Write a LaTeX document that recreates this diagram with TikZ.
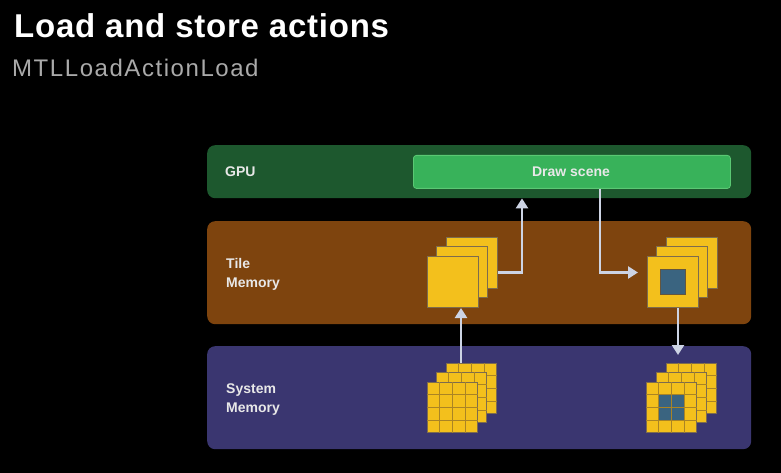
\documentclass[tikz,border=0pt]{standalone}
\usepackage{fontspec}
\setmainfont{Liberation Sans}
\usetikzlibrary{arrows.meta,calc}
\definecolor{gpugreen}{RGB}{29,88,46}
\definecolor{scenegreen}{RGB}{56,178,90}
\definecolor{scenebdr}{RGB}{90,200,115}
\definecolor{tilebrown}{RGB}{126,68,14}
\definecolor{syspurple}{RGB}{58,54,112}
\definecolor{tileyellow}{RGB}{243,192,28}
\definecolor{sqborder}{RGB}{125,108,78}
\definecolor{gridcol}{RGB}{170,132,36}
\definecolor{tileblue}{RGB}{58,100,128}
\definecolor{arrowgray}{RGB}{205,212,228}
\definecolor{labelwhite}{RGB}{232,232,232}
\definecolor{subgray}{RGB}{170,170,170}
\newcommand\mygridlines[1]{%
  \foreach \k in {1,2,3}{%
    \draw[gridline] ($(#1.north west)!\k/4!(#1.north east)$) -- ($(#1.south west)!\k/4!(#1.south east)$);
    \draw[gridline] ($(#1.north west)!\k/4!(#1.south west)$) -- ($(#1.north east)!\k/4!(#1.south east)$);
  }}
\begin{document}
\begin{tikzpicture}[x=1pt,y=-1pt,
  panel/.style={rounded corners=8pt, inner sep=0, anchor=north west},
  sq/.style={draw=sqborder, line width=1pt, fill=tileyellow, minimum width=51pt, minimum height=51pt, anchor=north west, inner sep=0},
  gsq/.style={sq, minimum width=50pt, minimum height=50pt},
  gridline/.style={draw=gridcol, line width=1pt},
  lbl/.style={text=labelwhite, font=\fontsize{14}{18}\selectfont\bfseries, anchor=base west, inner sep=0},
  arr/.style={draw=arrowgray, line width=2.5pt, -{Triangle[width=12pt,length=10pt]}}]
\fill[black] (0,0) rectangle (781,473);
\useasboundingbox (0,0) rectangle (781,473);

\node[anchor=base west, inner sep=0, text=white, font=\fontsize{33}{40}\selectfont\bfseries\addfontfeature{LetterSpace=2.3}] (title) at (14,38) {Load and store actions};
\node[anchor=base west, inner sep=0, text=subgray, font=\fontsize{24}{29}\selectfont\addfontfeature{LetterSpace=6.5}] (sub) at (12,77) {MTLLoadActionLoad};

% panels
\node[panel, fill=gpugreen, minimum width=544pt, minimum height=53pt] (gpu) at (207,145) {};
\node[panel, fill=tilebrown, minimum width=544pt, minimum height=103pt] (tile) at (207,221) {};
\node[panel, fill=syspurple, minimum width=544pt, minimum height=103pt] (sys) at (207,346) {};

\node[lbl] (gpul) at (225,177) {GPU};
\node[lbl] (tilel1) at (226,268) {Tile};
\node[lbl] (tilel2) at (226,287) {Memory};
\node[lbl] (sysl1) at (226,393) {System};
\node[lbl] (sysl2) at (226,412) {Memory};

\node[draw=scenebdr, line width=0.8pt, fill=scenegreen, rounded corners=3pt, minimum width=317pt, minimum height=33pt, anchor=north west, inner sep=0] (scene) at (413,155) {};
\node[lbl, anchor=base] (scenel) at (571,177) {Draw scene};

% tile memory stacks
\node[sq] (tlb) at (446,237) {};
\node[sq] (tlm) at (436,246) {};
\node[sq] (tlf) at (427,256) {};
\node[sq] (trb) at (666,237) {};
\node[sq] (trm) at (656,246) {};
\node[sq] (trf) at (647,256) {};
\node[draw=sqborder!80!black, line width=0.6pt, fill=tileblue, minimum width=25pt, minimum height=25pt, inner sep=0] (trc) at (trf.center) {};

% system memory stacks
\node[gsq] (slb) at (446,363) {}; \mygridlines{slb}
\node[gsq] (slm) at (436,372) {}; \mygridlines{slm}
\node[gsq] (slf) at (427,382) {}; \mygridlines{slf}
\node[gsq] (srb) at (666,363) {}; \mygridlines{srb}
\node[gsq] (srm) at (656,372) {}; \mygridlines{srm}
\node[gsq] (srf) at (646,382) {};
\fill[tileblue] ($(srf.north west)!0.25!(srf.south east)$) rectangle ($(srf.north west)!0.75!(srf.south east)$);
\mygridlines{srf}

% arrows
\draw[arr] ($(tlb.east)+(0,9.5)$) -| (gpu.south -| 522,0);
\draw[arr] (scene.south -| 600,0) |- ($(trf.west)+(-9,-9.5)$);
\draw[arr] (trf.south -| 678,0) -- ($(srb.north -| 678,0)+(0,-8)$);
\draw[arr] (slb.north -| 461,0) -- (tlf.south -| 461,0);
\end{tikzpicture}
\end{document}
